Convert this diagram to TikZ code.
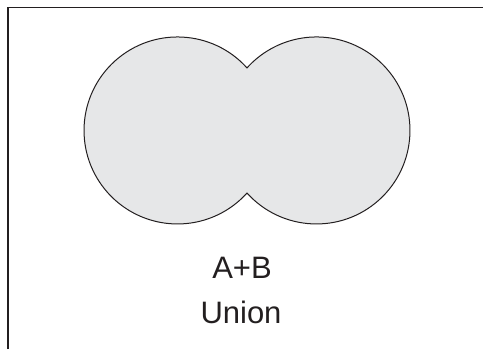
\documentclass[tikz,border=0pt]{standalone}
\usepackage{fontspec}
\setmainfont{Liberation Sans}
\definecolor{vennfill}{HTML}{E6E7E8}
\definecolor{vennink}{HTML}{231F20}
\tikzset{
  vennline/.style={draw=vennink, line width=1pt, fill=vennfill},
  framel/.style={draw=vennink, line width=1.6pt},
  venntext/.style={font=\fontsize{31}{37}\selectfont, text=vennink, anchor=base, inner sep=0pt}
}
\begin{document}
\begin{tikzpicture}[x=1pt,y=1pt]
        \useasboundingbox (0,0) rectangle (483,349);
        %cornice (aperta in basso e a destra)
        \coordinate (frameBL) at (8,0);
        \coordinate (frameTL) at (8,341.5);
        \coordinate (frameTR) at (483,341.5);
        \draw[framel] (frameBL) -- (frameTL) -- (frameTR);

        %centri e cuspidi
        \coordinate (cA) at (177.5,218.5);
        \coordinate (cB) at (316.5,218.5);
        \coordinate (topcusp) at (247,281.1);
        \coordinate (botcusp) at (247,155.9);

        %unione A+B
        \draw[vennline] (topcusp) arc[start angle=42, end angle=318, radius=93.5]
              arc[start angle=222, end angle=498, radius=93.5] -- cycle;

        %etichette
        \node[venntext] (sum) at (242,71) {A+B};
        \node[venntext] (union) at (241,26) {Union};
\end{tikzpicture}
\end{document}
